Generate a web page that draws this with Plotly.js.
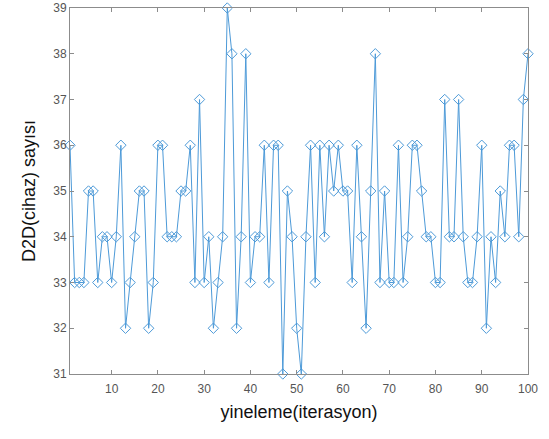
<!DOCTYPE html>
<html>
<head>
<meta charset="utf-8">
<script src="https://cdn.plot.ly/plotly-3.0.1.min.js"></script>
<style>
html,body{margin:0;padding:0;background:#fff;}
#chart{width:549px;height:439px;}
</style>
</head>
<body>
<div id="chart"></div>
<script>
// Iteration index (1..100)
const iterations = [
  1,2,3,4,5,6,7,8,9,10,
  11,12,13,14,15,16,17,18,19,20,
  21,22,23,24,25,26,27,28,29,30,
  31,32,33,34,35,36,37,38,39,40,
  41,42,43,44,45,46,47,48,49,50,
  51,52,53,54,55,56,57,58,59,60,
  61,62,63,64,65,66,67,68,69,70,
  71,72,73,74,75,76,77,78,79,80,
  81,82,83,84,85,86,87,88,89,90,
  91,92,93,94,95,96,97,98,99,100
];
// D2D device count per iteration
const deviceCounts = [
  36,33,33,33,35,35,33,34,34,33,
  34,36,32,33,34,35,35,32,33,36,
  36,34,34,34,35,35,36,33,37,33,
  34,32,33,34,39,38,32,34,38,33,
  34,34,36,33,36,36,31,35,34,32,
  31,34,36,33,36,34,36,35,36,35,
  35,33,36,34,32,35,38,33,35,33,
  33,36,33,34,36,36,35,34,34,33,
  33,37,34,34,37,34,33,33,34,36,
  32,34,33,35,34,36,36,34,37,38
];
const xTicks = [10,20,30,40,50,60,70,80,90,100];
const yTicks = [31,32,33,34,35,36,37,38,39];

const trace = {
  x: iterations,
  y: deviceCounts,
  type: 'scatter',
  mode: 'lines+markers',
  line: {color: '#4d9ad8', width: 1},
  marker: {symbol: 'diamond-open', size: 8, color: '#4d9ad8', line: {width: 1, color: '#4d9ad8'}},
  cliponaxis: false,
  hoverinfo: 'x+y'
};

const axisCommon = {
  showgrid: false,
  zeroline: false,
  showline: true,
  mirror: 'ticks',
  linecolor: '#8c8c8c',
  linewidth: 1,
  ticks: 'inside',
  ticklen: 4,
  tickcolor: '#8c8c8c',
  tickfont: {family: 'Liberation Sans, Arial, sans-serif', size: 12, color: '#555'}
};

const layout = {
  width: 549,
  height: 439,
  margin: {l: 70, r: 21, t: 8, b: 65},
  paper_bgcolor: '#fff',
  plot_bgcolor: '#fff',
  showlegend: false,
  xaxis: Object.assign({}, axisCommon, {
    range: [1, 100],
    tickvals: xTicks,
    ticktext: xTicks.map(String),
    ticklabelstandoff: 4,
    title: {text: 'yineleme(iterasyon)', font: {family: 'Liberation Sans, Arial, sans-serif', size: 18, color: '#111'}, standoff: 9}
  }),
  yaxis: Object.assign({}, axisCommon, {
    range: [31, 39],
    tickvals: yTicks,
    ticktext: yTicks.map(String),
    title: {text: 'D2D(cihaz) sayısı', font: {family: 'Liberation Sans, Arial, sans-serif', size: 18, color: '#111'}, standoff: 12}
  })
};

Plotly.newPlot('chart', [trace], layout, {displayModeBar: false, staticPlot: true});
</script>
</body>
</html>
